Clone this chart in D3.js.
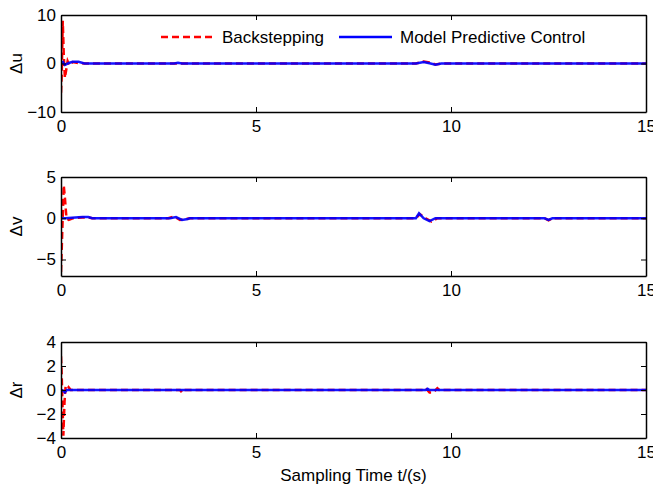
<!DOCTYPE html>
<html>
<head>
<meta charset="utf-8">
<script src="https://cdn.jsdelivr.net/npm/d3@7"></script>
<style>
body { margin: 0; background: #fff; }
svg { display: block; font-family: "Liberation Sans", Arial, sans-serif; }
</style>
</head>
<body>
<div class="chart"></div>
<script>
var width = 653;
var height = 487;

// series as [time, value]
var duBack = [[0,-6],[0.02,-2],[0.045,8.8],[0.07,2],[0.1,-3],[0.13,-1.5],[0.17,0.5],[0.22,-0.4],[0.3,0.3],[0.45,0.1],[0.6,0],[9.1,0],[9.3,0.4],[9.45,0.2],[9.6,-0.2],[9.75,0],[15,0]];
var duMpc = [[0,0],[0.05,0.3],[0.1,-0.3],[0.2,0.1],[0.3,0.35],[0.45,0.35],[0.6,0],[2.9,0],[3.0,0.15],[3.1,0],[9.1,0],[9.3,0.3],[9.45,0.05],[9.6,-0.25],[9.75,0],[15,0]];
var dvBack = [[0,-6.5],[0.03,-2],[0.07,4],[0.1,2.5],[0.14,0],[0.2,-0.2],[0.3,0],[0.55,0.1],[0.7,0.1],[0.8,0],[2.75,0],[2.9,0.2],[3.05,-0.2],[3.2,-0.1],[3.3,0],[9.1,0],[9.2,0.5],[9.35,0],[9.5,-0.4],[9.65,0],[12.4,0],[12.5,-0.25],[12.6,0],[15,0]];
var dvMpc = [[0,0],[0.1,0],[0.55,0.15],[0.7,0.15],[0.8,0],[2.8,0],[2.95,0.15],[3.1,-0.2],[3.25,-0.1],[3.3,0],[9.1,0],[9.18,0.6],[9.3,0],[9.45,-0.35],[9.6,0],[12.4,0],[12.5,-0.2],[12.6,0],[15,0]];
var drBack = [[0,2.8],[0.02,1],[0.06,-3.8],[0.09,-1],[0.12,0.4],[0.18,0.3],[0.25,0],[3.05,0],[3.1,-0.2],[3.15,0],[9.3,0],[9.35,0.15],[9.45,-0.2],[9.55,-0.2],[9.65,0.15],[9.7,0],[15,0]];
var drMpc = [[0,0],[0.05,-0.05],[0.1,-0.2],[0.15,0],[9.35,0],[9.4,0.1],[9.45,0],[15,0]];

var yTicksU = [-10, 0, 10];
var yTicksV = [-5, 0, 5];
var yTicksR = [-4, -2, 0, 2, 4];
var xTicks = [0, 5, 10, 15];

var panels = [
	{label: "\u0394u", top: 15, bottom: 112, domain: [-10, 10], ticks: yTicksU, back: duBack, mpc: duMpc},
	{label: "\u0394v", top: 177, bottom: 276, domain: [-7, 5], ticks: yTicksV, back: dvBack, mpc: dvMpc},
	{label: "\u0394r", top: 342, bottom: 438, domain: [-4, 4], ticks: yTicksR, back: drBack, mpc: drMpc}
];

var left = 61, right = 646;
var fs = "17px";

var svg = d3.select(".chart").append("svg")
	.attr("width", width)
	.attr("height", height);

var x = d3.scaleLinear().domain([0, 15]).range([left, right]);

panels.forEach(function(p, i) {
	var y = d3.scaleLinear().domain(p.domain).range([p.bottom, p.top]);
	var g = svg.append("g").attr("class", "panel" + i);

	var clipId = "clip" + i;
	svg.append("clipPath").attr("id", clipId)
		.append("rect")
		.attr("x", left).attr("y", p.top)
		.attr("width", right - left).attr("height", p.bottom - p.top);

	var line = d3.line()
		.x(function(d) { return x(d[0]); })
		.y(function(d) { return y(d[1]); });

	g.append("path")
		.datum(p.back)
		.attr("clip-path", "url(#" + clipId + ")")
		.attr("d", line)
		.attr("fill", "none")
		.attr("stroke", "#ff0000")
		.attr("stroke-width", 2.5)
		.attr("stroke-dasharray", "7,4");

	g.append("path")
		.datum(p.mpc)
		.attr("clip-path", "url(#" + clipId + ")")
		.attr("d", line)
		.attr("fill", "none")
		.attr("stroke", "#0000ff")
		.attr("stroke-width", 2.5)
		.attr("stroke-opacity", 0.92);

	// axes, MATLAB style inward ticks
	var axB = g.append("g").attr("transform", "translate(0," + p.bottom + ")")
		.call(d3.axisBottom(x).tickValues(xTicks).tickSizeInner(-5).tickSizeOuter(0).tickPadding(8));
	var axT = g.append("g").attr("transform", "translate(0," + p.top + ")")
		.call(d3.axisTop(x).tickValues(xTicks).tickSizeInner(-5).tickSizeOuter(0).tickFormat(""));
	var axL = g.append("g").attr("transform", "translate(" + left + ",0)")
		.call(d3.axisLeft(y).tickValues(p.ticks).tickSizeInner(-5).tickSizeOuter(0).tickPadding(5));
	var axR = g.append("g").attr("transform", "translate(" + right + ",0)")
		.call(d3.axisRight(y).tickValues(p.ticks).tickSizeInner(-5).tickSizeOuter(0).tickFormat(""));

	[axB, axT, axL, axR].forEach(function(a) {
		a.select(".domain").attr("stroke", "#000").attr("stroke-width", 1.5);
		a.selectAll(".tick line").attr("stroke", "#000").attr("stroke-width", 1);
		a.selectAll("text").attr("font-size", fs).attr("fill", "#000")
			.attr("font-family", "Liberation Sans, Arial, sans-serif");
	});
	axB.selectAll("text").attr("dy", "0.71em");

	g.append("text")
		.attr("transform", "translate(22," + ((p.top + p.bottom) / 2) + ") rotate(-90)")
		.attr("text-anchor", "middle")
		.attr("font-size", fs)
		.text(p.label);
});

svg.append("text")
	.attr("x", x(7.5))
	.attr("y", 481)
	.attr("text-anchor", "middle")
	.attr("font-size", fs)
	.text("Sampling Time t/(s)");

// legend
var lg = svg.append("g");
lg.append("line").attr("x1", 161).attr("x2", 212).attr("y1", 37).attr("y2", 37)
	.attr("stroke", "#ff0000").attr("stroke-width", 2.5).attr("stroke-dasharray", "7,4");
lg.append("text").attr("x", 222).attr("y", 43).attr("font-size", fs).text("Backstepping");
lg.append("line").attr("x1", 339).attr("x2", 392).attr("y1", 37).attr("y2", 37)
	.attr("stroke", "#0000ff").attr("stroke-width", 2.5);
lg.append("text").attr("x", 400).attr("y", 43).attr("font-size", fs).text("Model Predictive Control");
</script>
</body>
</html>
